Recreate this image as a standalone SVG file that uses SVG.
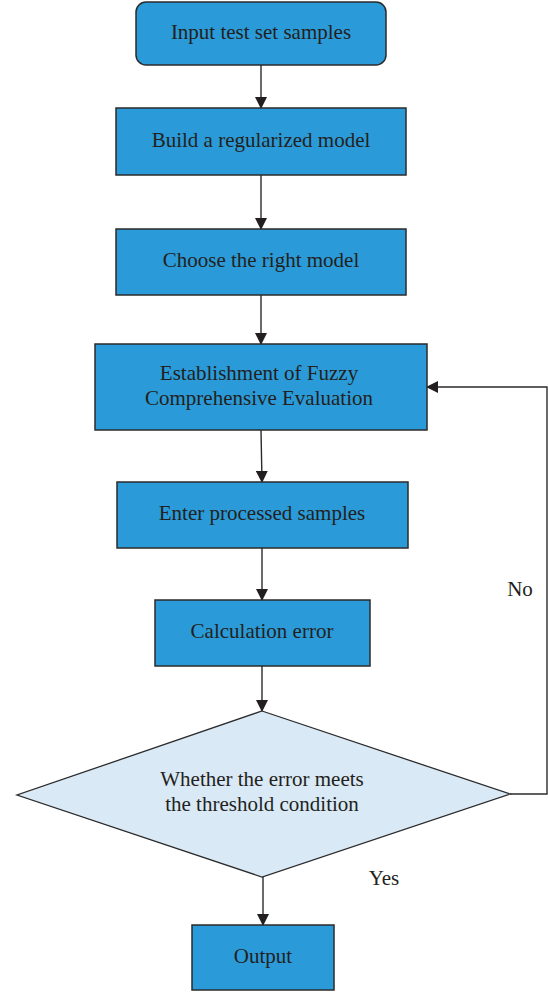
<svg xmlns="http://www.w3.org/2000/svg" width="548" height="994" viewBox="0 0 548 994">
<style>
.box{fill:#2a9bd8;stroke:#2b2b2b;stroke-width:1.5}
.dia{fill:#d9e9f6;stroke:#2b2b2b;stroke-width:1.3}
.t{font-family:"Liberation Serif","Times New Roman",serif;font-size:21px;fill:#231f20;text-anchor:middle}
.c{fill:none;stroke:#2b2b2b;stroke-width:1.4}
</style>
<defs>
<marker id="ah" markerWidth="12" markerHeight="12" refX="11" refY="6" orient="auto" markerUnits="userSpaceOnUse">
<path d="M0,0 L12,6 L0,12 Z" fill="#231f20"/>
</marker>
</defs>
<g id="connectors">
<line class="c" x1="261" y1="65" x2="261" y2="108" marker-end="url(#ah)"/>
<line class="c" x1="261" y1="175" x2="261" y2="229" marker-end="url(#ah)"/>
<line class="c" x1="261" y1="295" x2="261" y2="344" marker-end="url(#ah)"/>
<line class="c" x1="261" y1="430" x2="262" y2="482" marker-end="url(#ah)"/>
<line class="c" x1="262" y1="548" x2="262" y2="600" marker-end="url(#ah)"/>
<line class="c" x1="262" y1="666" x2="262" y2="711" marker-end="url(#ah)"/>
<line class="c" x1="263" y1="877" x2="263" y2="925" marker-end="url(#ah)"/>
<polyline class="c" points="510,794 547,794 547,387 427,387" marker-end="url(#ah)"/>
<text class="t" x="520" y="596">No</text>
<text class="t" x="384" y="885">Yes</text>
</g>
<g id="n1"><rect class="box" x="136" y="2" width="250" height="63" rx="10"/><text class="t" x="261" y="39">Input test set samples</text></g>
<g id="n2"><rect class="box" x="116" y="108" width="290" height="67"/><text class="t" x="261" y="147">Build a regularized model</text></g>
<g id="n3"><rect class="box" x="116" y="229" width="290" height="66"/><text class="t" x="261" y="267">Choose the right model</text></g>
<g id="n4"><rect class="box" x="95" y="344" width="332" height="86"/><text class="t" x="259" y="380">Establishment of Fuzzy</text><text class="t" x="259" y="405">Comprehensive Evaluation</text></g>
<g id="n5"><rect class="box" x="117" y="482" width="291" height="66"/><text class="t" x="262" y="520">Enter processed samples</text></g>
<g id="n6"><rect class="box" x="155" y="600" width="215" height="66"/><text class="t" x="262" y="638">Calculation error</text></g>
<g id="n7"><polygon class="dia" points="262,711 510,794 262,877 17,795"/><text class="t" x="262" y="786">Whether the error meets</text><text class="t" x="262" y="811">the threshold condition</text></g>
<g id="n8"><rect class="box" x="192" y="925" width="142" height="65"/><text class="t" x="263" y="963">Output</text></g>
</svg>
